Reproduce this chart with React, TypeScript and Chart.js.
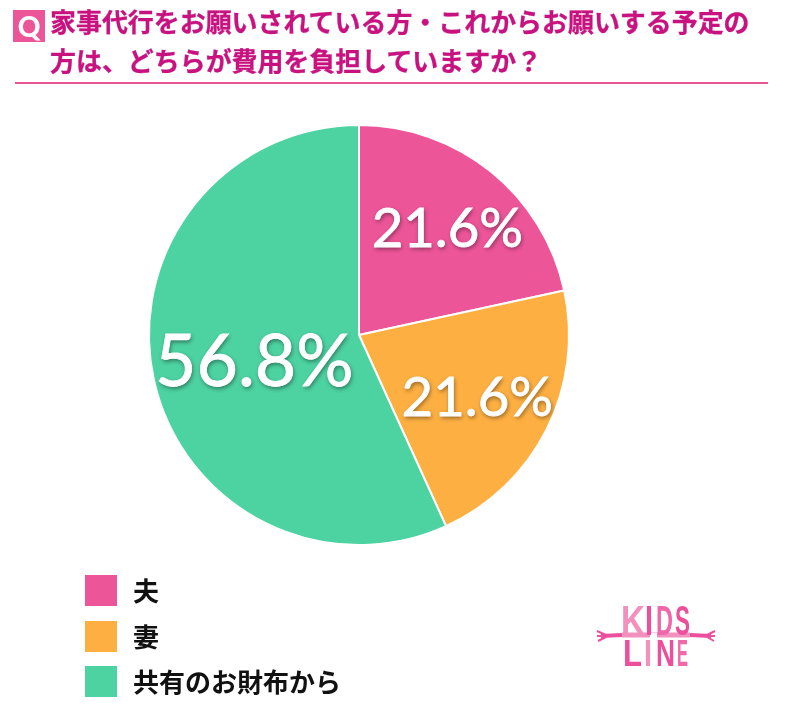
import React, { useEffect, useRef } from "react";
import { Chart, registerables } from "chart.js";

Chart.register(...registerables);

const categories = ["夫", "妻", "共有のお財布から"];
const shares = [21.6, 21.6, 56.8];
const sliceColors = ["#ED5599", "#FDAF42", "#4DD2A1"];
const titleLines = [
  "家事代行をお願いされている方・これからお願いする予定の",
  "方は、どちらが費用を負担していますか？",
];
const labelFontSizes = [54.5, 54.5, 71.5];
const labelRadiusFractions = [0.67, 0.63, 0.51];

const jp = '"Noto Sans CJK JP", sans-serif';

const percentLabels = {
  id: "percentLabels",
  afterDatasetsDraw(chart: any) {
    const { ctx } = chart;
    const arcs = chart.getDatasetMeta(0).data;
    arcs.forEach((arc: any, i: number) => {
      const mid = (arc.startAngle + arc.endAngle) / 2;
      const r = arc.outerRadius * labelRadiusFractions[i];
      const x = arc.x + Math.cos(mid) * r;
      const y = arc.y + Math.sin(mid) * r + labelFontSizes[i] * 0.07;
      ctx.save();
      ctx.font = `400 ${labelFontSizes[i]}px Lato, sans-serif`;
      ctx.textAlign = "center";
      ctx.textBaseline = "middle";
      ctx.fillStyle = "#ffffff";
      ctx.strokeStyle = "#ffffff";
      ctx.lineWidth = 0.8;
      ctx.shadowColor = "rgba(0,0,0,0.45)";
      ctx.shadowBlur = 4;
      ctx.shadowOffsetX = 1;
      ctx.shadowOffsetY = 2;
      ctx.fillText(shares[i].toFixed(1) + "%", x, y);
      ctx.shadowColor = "transparent";
      ctx.strokeText(shares[i].toFixed(1) + "%", x, y);
      ctx.restore();
    });
  },
};

const abs = (left: number, top: number, extra: React.CSSProperties = {}): React.CSSProperties => ({
  position: "absolute",
  left,
  top,
  ...extra,
});

const logoTop = ["K", "I", "D", "S"];
const logoBottom = ["L", "I", "N", "E"];

function Logo() {
  const light = "#F291BD";
  const mid = "#EE69A9";
  const dark = "#EC4F9B";
  const topX = [29, 53, 64, 83];
  const topW = [24, 8, 17, 15];
  const topC = [light, dark, mid, dark];
  const botX = [31, 52, 64, 85];
  const botW = [19, 8, 19, 11];
  const botC = [dark, light, dark, mid];
  const font = '"Liberation Sans", sans-serif';
  return (
    <svg width={130} height={80} style={abs(592, 598)} viewBox="0 0 130 80">
      <path d="M9 38 L30 37 M98 37 L119 38" stroke={dark} strokeWidth={4} fill="none" />
      <path d="M30 37 L98 37" stroke={light} strokeWidth={5} fill="none" />
      <path d="M5 33 L14 37 M5 38 L14 38 M6 43 L14 39 M123 33 L115 37 M123 38 L115 38 M122 43 L115 39" stroke={dark} strokeWidth={2} fill="none" />
      <rect x={58} y={35} width={7} height={5} fill="#FFFFFF" />
      {logoTop.map((c, i) => (
        <text key={c + i} x={topX[i]} y={37} fontFamily={font} fontWeight={700} fontSize={43} fill={topC[i]} textLength={topW[i]} lengthAdjust="spacingAndGlyphs">
          {c}
        </text>
      ))}
      {logoBottom.map((c, i) => (
        <text key={c + i} x={botX[i]} y={68} fontFamily={font} fontWeight={700} fontSize={36} fill={botC[i]} textLength={botW[i]} lengthAdjust="spacingAndGlyphs">
          {c}
        </text>
      ))}
    </svg>
  );
}

export default function App() {
  const ref = useRef<HTMLCanvasElement>(null);

  useEffect(() => {
    document.body.style.margin = "0";
    const chart = new Chart(ref.current as HTMLCanvasElement, {
      type: "pie",
      data: {
        labels: categories,
        datasets: [
          {
            data: shares,
            backgroundColor: sliceColors,
            borderColor: "#ffffff",
            borderWidth: 2,
            borderJoinStyle: "miter",
          },
        ],
      },
      options: {
        responsive: false,
        animation: false,
        layout: { padding: { left: 148, right: 230, top: 124, bottom: 179 } },
        plugins: { legend: { display: false }, tooltip: { enabled: false }, title: { display: false } },
      },
      plugins: [percentLabels],
    } as any);
    return () => chart.destroy();
  }, []);

  return (
    <div style={{ position: "relative", width: 800, height: 725, background: "#fff", overflow: "hidden", fontFamily: jp }}>
      <canvas ref={ref} width={800} height={725} style={abs(0, 0, { display: "block" })} />
      <div style={abs(13, 10, { width: 32, height: 32, background: "#ED5599", color: "#fff", fontWeight: 900, fontSize: 28, lineHeight: "32px", textAlign: "center", fontFamily: "Lato, sans-serif" })}>
        Q
      </div>
      {titleLines.map((line, i) => (
        <div key={i} style={abs(50, 3 + i * 39, { color: "#C7127F", fontWeight: 700, fontSize: 25.95, lineHeight: "36px", whiteSpace: "nowrap", WebkitTextStroke: "0.3px #C7127F" })}>
          {line}
        </div>
      ))}
      <div style={abs(15, 82, { width: 753, height: 2, background: "#ED5599" })} />
      {categories.map((c, i) => (
        <React.Fragment key={c}>
          <div style={abs(85, 575 + i * 45.7, { width: 32, height: 31, background: sliceColors[i] })} />
          <div style={abs(133, 572 + i * 45.7, { color: "#111", fontWeight: 700, fontSize: 26, lineHeight: "36px", whiteSpace: "nowrap" })}>
            {c}
          </div>
        </React.Fragment>
      ))}
      <Logo />
    </div>
  );
}
